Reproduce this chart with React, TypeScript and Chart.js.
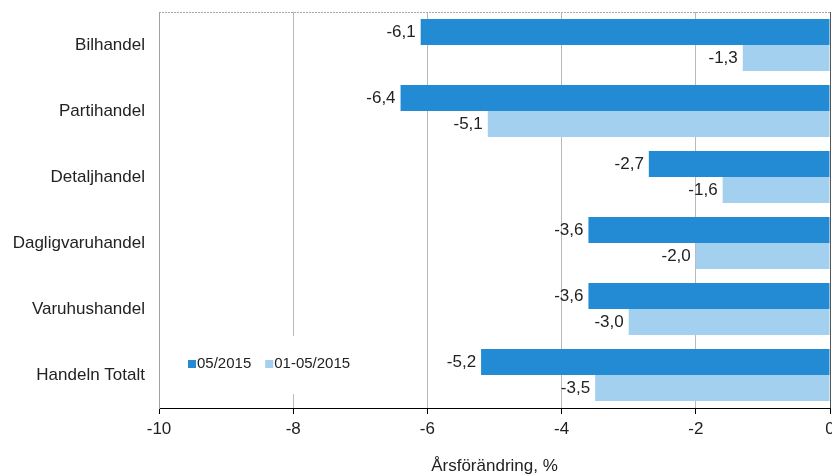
import React, { useEffect, useRef } from "react";
import { Chart, registerables } from "chart.js";

Chart.register(...registerables);

const categories = ["Bilhandel", "Partihandel", "Detaljhandel", "Dagligvaruhandel", "Varuhushandel", "Handeln Totalt"];
const series1Label = "05/2015";
const series2Label = "01-05/2015";
const series1 = [-6.1, -6.4, -2.7, -3.6, -3.6, -5.2];
const series2 = [-1.3, -5.1, -1.6, -2.0, -3.0, -3.5];
const axisTitle = "Årsförändring, %";

const DARK = "#238BD4";
const LIGHT = "#A2D0EE";
const FONT = "'Liberation Sans', Arial, sans-serif";

const fmt = (v: number) => v.toFixed(1).replace(".", ",");

const extrasPlugin = {
  id: "extras",
  beforeDatasetsDraw(chart: any) {
    const { ctx, chartArea } = chart;
    ctx.save();
    ctx.strokeStyle = "#a8a8a8";
    ctx.lineWidth = 1;
    ctx.setLineDash([2, 1]);
    ctx.beginPath();
    ctx.moveTo(chartArea.left, chartArea.top + 0.5);
    ctx.lineTo(chartArea.right, chartArea.top + 0.5);
    ctx.stroke();
    ctx.restore();
  },
  afterDatasetsDraw(chart: any) {
    const { ctx, chartArea } = chart;
    ctx.save();
    ctx.font = `17px ${FONT}`;
    ctx.fillStyle = "#222";
    ctx.textAlign = "right";
    ctx.textBaseline = "middle";
    chart.data.datasets.forEach((ds: any, di: number) => {
      const meta = chart.getDatasetMeta(di);
      meta.data.forEach((el: any, i: number) => {
        ctx.fillText(fmt(ds.data[i]), el.x - 5, el.y);
      });
    });
    const lx = chartArea.left + 22;
    const ly = chartArea.bottom - 44;
    ctx.fillStyle = "#fff";
    ctx.fillRect(lx, ly - 28, 185, 58);
    ctx.font = `15px ${FONT}`;
    ctx.textAlign = "left";
    ctx.textBaseline = "middle";
    const items = [
      { label: series1Label, color: DARK },
      { label: series2Label, color: LIGHT },
    ];
    let x = lx + 7;
    items.forEach((it) => {
      ctx.fillStyle = it.color;
      ctx.fillRect(x, ly - 4, 8, 8);
      ctx.fillStyle = "#222";
      ctx.fillText(it.label, x + 9, ly);
      x += 9 + ctx.measureText(it.label).width + 14;
    });
    ctx.restore();
  },
};

export default function App() {
  const ref = useRef<HTMLCanvasElement | null>(null);
  useEffect(() => {
    if (!ref.current) return;
    const chart = new Chart(ref.current, {
      type: "bar",
      data: {
        labels: categories,
        datasets: [
          { label: series1Label, data: series1, backgroundColor: DARK, barPercentage: 1.0, categoryPercentage: 0.79 },
          { label: series2Label, data: series2, backgroundColor: LIGHT, barPercentage: 1.0, categoryPercentage: 0.79 },
        ],
      },
      options: {
        indexAxis: "y",
        responsive: false,
        animation: false,
        layout: { padding: { top: 12, right: 2, left: 0, bottom: 0 } },
        plugins: { legend: { display: false }, tooltip: { enabled: false } },
        scales: {
          x: {
            min: -10,
            max: 0,
            ticks: { stepSize: 2, color: "#222", font: { size: 17, family: FONT }, padding: 5 },
            grid: {
              color: (c: any) => (c.tick && c.tick.value === 0 ? "#555" : "#b9b9b9"),
              tickColor: "#000",
              tickLength: 6,
              drawTicks: true,
            },
            border: { display: true, color: "#000", width: 1 },
            title: { display: true, text: axisTitle, color: "#222", font: { size: 17, family: FONT, lineHeight: 1.0 }, padding: { top: 0, bottom: 0 } },
            afterFit: (s: any) => { s.height = 67; s.paddingLeft = 0; s.paddingRight = 0; },
          },
          y: {
            ticks: { color: "#222", font: { size: 17, family: FONT }, padding: 14 },
            grid: { display: false, drawTicks: false },
            border: { display: true, color: "#a0a0a0", width: 1 },
            afterFit: (s: any) => { s.width = 159; s.paddingTop = 0; s.paddingBottom = 0; },
          },
        },
      },
      plugins: [extrasPlugin],
    } as any);
    return () => chart.destroy();
  }, []);
  return (
    <div style={{ position: "fixed", left: 0, top: 0, width: 832, height: 475, background: "#fff" }}>
      <canvas ref={ref} width={832} height={475} style={{ width: 832, height: 475 }} />
    </div>
  );
}
